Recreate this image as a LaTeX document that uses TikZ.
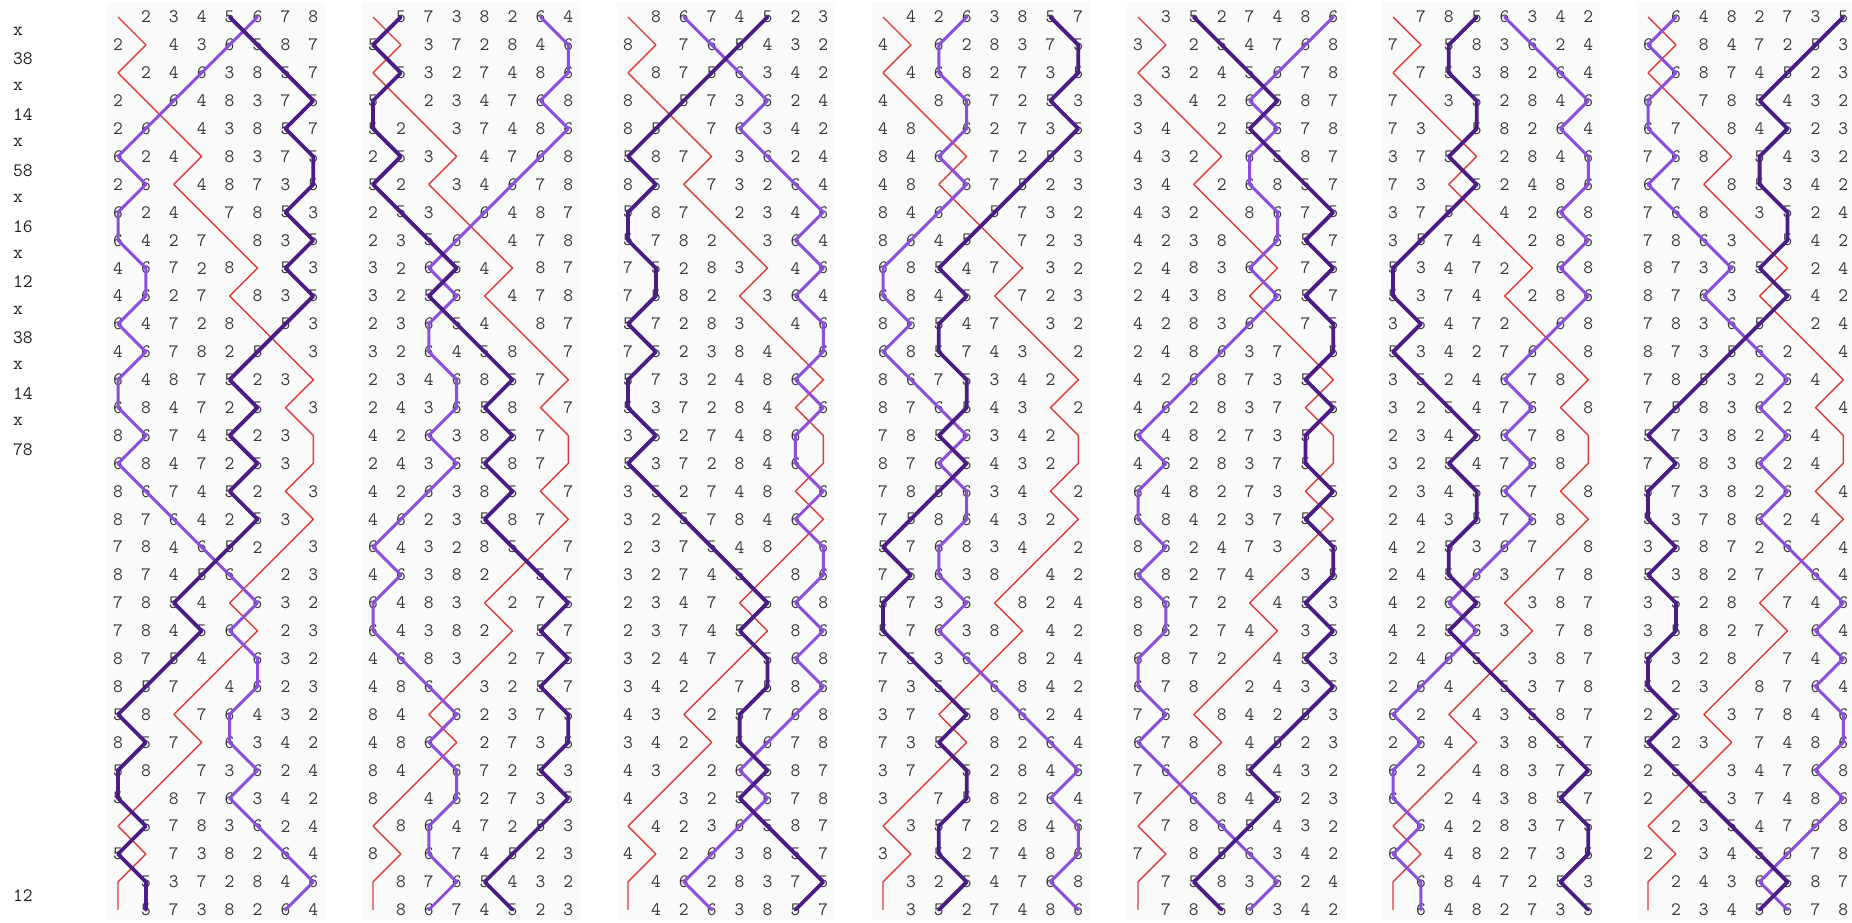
\documentclass[tikz,border=0pt]{standalone}
\definecolor{digc}{HTML}{383838}
\definecolor{labc}{HTML}{202020}
\definecolor{treblec}{HTML}{DE3B3B}
\definecolor{darkp}{HTML}{4A1C84}
\definecolor{lightp}{HTML}{8E4EDC}
\definecolor{colbg}{HTML}{FAFAFA}
\makeatletter
\newcount\rpP
\newcount\rpQ
\def\rpget#1{\csname rpb#1\endcsname}
\def\rpset#1#2{\expandafter\xdef\csname rpb#1\endcsname{#2}}
\def\rpswap#1#2{\edef\rptmp{\rpget{#1}}\rpset{#1}{\rpget{#2}}\rpset{#2}{\rptmp}}
\def\rpchange#1{%
  \rpP=1\relax
  \loop\ifnum\rpP<9\relax
    \edef\rptmpc{\noexpand\in@{\number\rpP}{#1}}\rptmpc
    \ifin@
      \advance\rpP by 1\relax
    \else
      \rpQ=\rpP\relax
      \advance\rpQ by 1\relax
      \rpswap{\number\rpP}{\number\rpQ}%
      \advance\rpP by 2\relax
    \fi
  \repeat}
\makeatother
\rpset{1}{1}\rpset{2}{2}\rpset{3}{3}\rpset{4}{4}
\rpset{5}{5}\rpset{6}{6}\rpset{7}{7}\rpset{8}{8}
\newcommand\rowdraw[2]{%
  \foreach \p in {1,...,8}{%
    \edef\bb{\rpget{\p}}%
    \pgfmathsetmacro\xx{118+255*#1+27.9*(\p-1)}%
    \pgfmathsetmacro\yy{-(17+27.9*#2)}%
    \coordinate (t#1-#2-\bb) at (\xx,\yy);
    \ifnum\bb=1 \else \node[dig] (d#1-#2-\p) at (\xx,\yy) {\bb};\fi
  }}
\begin{document}
\begin{tikzpicture}[x=1pt,y=1pt,
  dig/.style={font=\ttfamily\fontsize{19}{19}\selectfont, text=digc, inner sep=0pt, anchor=center},
  lab/.style={font=\ttfamily\fontsize{19}{19}\selectfont, text=labc, inner sep=0pt, anchor=west},
  trebleline/.style={draw=treblec, line width=1.4pt, line join=round},
  lightline/.style={draw=lightp, line width=3pt, line join=round, line cap=round},
  darkline/.style={draw=darkp, line width=3.8pt, line join=round, line cap=round}]
\useasboundingbox (0,0) rectangle (1852,-922);
\fill[white] (0,0) rectangle (1852,-922);
\foreach \L in {0,...,6}{\fill[colbg] ({107+255*\L},-2) rectangle ({107+255*\L+218},-920);}
\foreach \t [count=\i] in {x,38,x,14,x,58,x,16,x,12,x,38,x,14,x,78}{%
  \node[lab] (lab\i) at (13,{-(17+27.9*(\i-0.5))}) {\t};}
\node[lab] (lab32) at (13,{-(17+27.9*31.5)}) {12};
\foreach \L in {0,...,6}{%
  \rowdraw{\L}{0}
  \foreach \pn [count=\r] in {x,38,x,14,x,58,x,16,x,12,x,38,x,14,x,78,x,14,x,38,x,12,x,16,x,58,x,14,x,38,x,12}{%
    \rpchange{\pn}\rowdraw{\L}{\r}}
  \draw[trebleline] (t\L-0-1) \foreach \r in {1,...,32}{-- (t\L-\r-1)};
  \draw[lightline] (t\L-0-6) \foreach \r in {1,...,32}{-- (t\L-\r-6)};
  \draw[darkline] (t\L-0-5) \foreach \r in {1,...,32}{-- (t\L-\r-5)};
}
\end{tikzpicture}
\end{document}
